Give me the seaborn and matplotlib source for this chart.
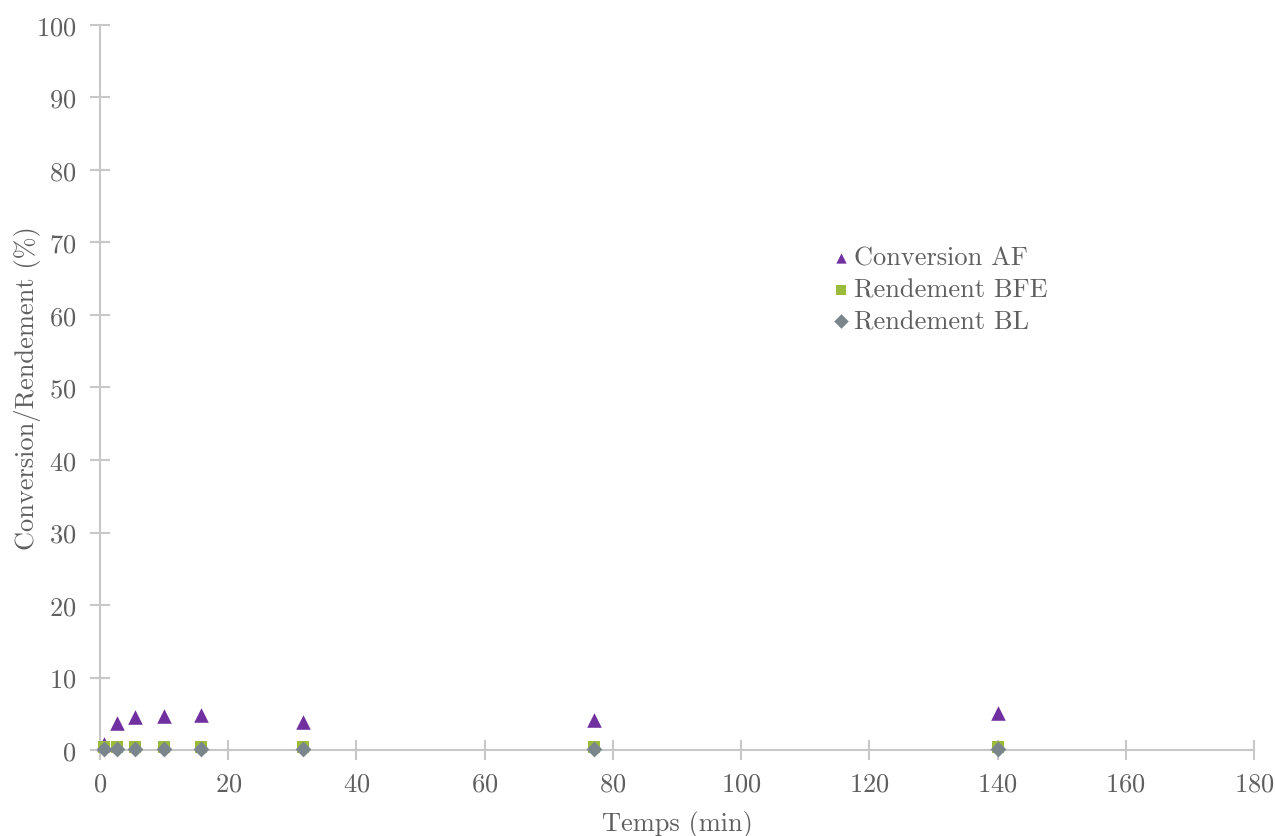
import pandas as pd
import matplotlib
matplotlib.use("Agg")
import matplotlib.pyplot as plt
import seaborn as sns

# data
temps = [0.7, 2.7, 5.5, 10, 15.7, 31.7, 77, 140]
conversion_af = [0.8, 3.7, 4.5, 4.7, 4.8, 3.9, 4.1, 5.1]
rendement_bfe = [0.4, 0.4, 0.4, 0.4, 0.4, 0.4, 0.4, 0.4]
rendement_bl = [0.2, 0.2, 0.2, 0.2, 0.2, 0.2, 0.2, 0.2]

series_names = ["Conversion AF", "Rendement BFE", "Rendement BL"]
df = pd.DataFrame({
    "Temps": temps * 3,
    "Valeur": conversion_af + rendement_bfe + rendement_bl,
    "Serie": [n for n in series_names for _ in temps],
})

sns.set_theme(style="white")
plt.rcParams["font.family"] = ["cmr10", "DejaVu Serif"]
plt.rcParams["axes.formatter.use_mathtext"] = True

grey = "#5f5f5f"
fig = plt.figure(figsize=(12.75, 8.37), dpi=100)
ax = fig.add_axes([0.0784, 0.1027, 0.9051, 0.8663])

palette = {"Conversion AF": "#7030A0", "Rendement BFE": "#9BBB3B", "Rendement BL": "#7B868C"}
markers = {"Conversion AF": "^", "Rendement BFE": "s", "Rendement BL": "D"}
sizes = {"Conversion AF": 110, "Rendement BFE": 70, "Rendement BL": 65}
for name in series_names:
    sub = df[df["Serie"] == name]
    sns.scatterplot(data=sub, x="Temps", y="Valeur", color=palette[name], marker=markers[name],
                    s=sizes[name], linewidth=0, ax=ax, label=name, clip_on=False, zorder=3)

ax.set_xlim(0, 180)
ax.set_ylim(0, 100)
ax.set_xticks(range(0, 181, 20))
ax.set_yticks(range(0, 101, 10))
for side in ["top", "right"]:
    ax.spines[side].set_visible(False)
for side in ["left", "bottom"]:
    ax.spines[side].set_color("#c8c8c8")
    ax.spines[side].set_linewidth(1.5)
ax.tick_params(axis="both", direction="inout", length=14, width=1.5, color="#c8c8c8",
               labelsize=19, labelcolor=grey)
ax.tick_params(axis="x", bottom=True, pad=9)
ax.tick_params(axis="y", left=True, pad=10)

ax.set_xlabel("Temps (min)", fontsize=19, color=grey, labelpad=10)
ax.set_ylabel("Conversion/Rendement (%)", fontsize=19, color=grey, labelpad=-4)

leg = ax.legend(loc="upper left", bbox_to_anchor=(0.619, 0.713), frameon=False, fontsize=19,
                handletextpad=0.0, labelspacing=0.3, borderpad=0, handlelength=1.0)
for t in leg.get_texts():
    t.set_color(grey)
for h in leg.legend_handles:
    h.set_sizes([55])

fig.savefig("out.png", dpi=100)
